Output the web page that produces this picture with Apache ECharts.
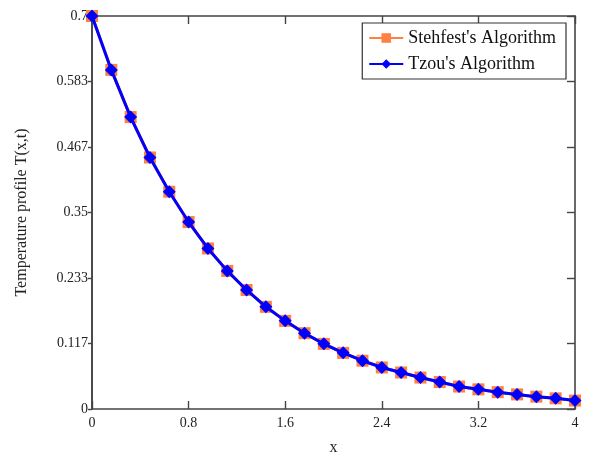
<!DOCTYPE html>
<html>
<head>
<meta charset="utf-8">
<script src="https://cdn.jsdelivr.net/npm/echarts@6/dist/echarts.min.js"></script>
<style>html,body{margin:0;padding:0;background:#fff;}#c{width:590px;height:461px;}</style>
</head>
<body>
<div id="c"></div>
<script>
var xValues = [0,0.16,0.32,0.48,0.64,0.80,0.96,1.12,1.28,1.44,1.60,1.76,1.92,2.08,2.24,2.40,2.56,2.72,2.88,3.04,3.20,3.36,3.52,3.68,3.84,4.00];
var stehfest = [0.700,0.604,0.520,0.448,0.387,0.333,0.286,0.246,0.212,0.182,0.157,0.135,0.116,0.100,0.086,0.074,0.065,0.056,0.048,0.040,0.035,0.030,0.026,0.022,0.019,0.015];
var tzou = [0.700,0.604,0.520,0.448,0.387,0.333,0.286,0.246,0.212,0.182,0.157,0.135,0.116,0.100,0.086,0.074,0.065,0.056,0.048,0.040,0.035,0.030,0.026,0.022,0.019,0.015];
var yTickLabels = ['0','0.117','0.233','0.35','0.467','0.583','0.7'];
var xTickLabels = ['0','0.8','1.6','2.4','3.2','4'];
var seriesNames = ["Stehfest's Algorithm","Tzou's Algorithm"];

var yInt = 0.7/6;
function pairs(ys){ return xValues.map(function(x,i){return [x, ys[i]];}); }
var font = 'Liberation Serif';
var axisColor = '#444';
function line(show){ return {show: show !== false, onZero: false, lineStyle: {color: axisColor, width: 1.6}}; }
function tickAxisX(pos, inside, len){
  return {type: 'value', min: 0, max: 4, interval: 0.8, position: pos, show: true,
    axisLine: line(), axisTick: {show: true, inside: inside, length: len, lineStyle: {color: axisColor, width: 1.4}},
    axisLabel: {show: false}, splitLine: {show: false}};
}
function tickAxisY(pos, inside, len){
  return {type: 'value', min: 0, max: 0.7, interval: yInt, position: pos, show: true,
    axisLine: line(), axisTick: {show: true, inside: inside, length: len, lineStyle: {color: axisColor, width: 1.4}},
    axisLabel: {show: false}, splitLine: {show: false}};
}
var chart = echarts.init(document.getElementById('c'));
chart.setOption({
  animation: false,
  backgroundColor: '#fff',
  textStyle: {fontFamily: font},
  grid: {left: 92, right: 15, top: 16, bottom: 52, containLabel: false, outerBoundsMode: 'none'},
  legend: {
    right: 24, top: 23,
    orient: 'vertical',
    backgroundColor: '#fff',
    borderColor: '#333',
    borderWidth: 1.2,
    borderRadius: 0,
    padding: [6, 10, 6, 6],
    itemGap: 8,
    itemWidth: 34, itemHeight: 12,
    textStyle: {fontFamily: font, fontSize: 18, color: '#111'},
    data: seriesNames
  },
  xAxis: [{
    type: 'value', min: 0, max: 4, interval: 0.8, position: 'bottom',
    name: 'x', nameLocation: 'middle', nameGap: 31,
    nameTextStyle: {fontFamily: font, fontSize: 16, color: '#222'},
    axisLine: line(),
    axisTick: {show: true, inside: false, length: -8, lineStyle: {color: axisColor, width: 1.4}},
    axisLabel: {fontFamily: font, fontSize: 14, color: '#222', margin: 7,
      formatter: function(v){ return xTickLabels[Math.round(v/0.8)]; }},
    splitLine: {show: false}
  }, tickAxisX('top', true, 8)],
  yAxis: [{
    type: 'value', min: 0, max: 0.7, interval: yInt, position: 'left',
    name: 'Temperature profile T(x,t)', nameLocation: 'middle', nameGap: 62,
    nameTextStyle: {fontFamily: font, fontSize: 16, color: '#222'},
    axisLine: line(), axisTick: {show: false},
    axisLabel: {fontFamily: font, fontSize: 14, color: '#222', margin: 4,
      formatter: function(v){ return yTickLabels[Math.round(v/yInt)]; }},
    splitLine: {show: false}
  }, tickAxisY('right', true, 8), tickAxisY('left', false, 4)],
  series: [{
    name: seriesNames[0], type: 'line', data: pairs(stehfest),
    xAxisIndex: 0, yAxisIndex: 0,
    symbol: 'rect', symbolSize: 12,
    itemStyle: {color: '#FF8040'},
    lineStyle: {color: '#FF8040', width: 3},
    z: 2
  },{
    name: seriesNames[1], type: 'line', data: pairs(tzou),
    xAxisIndex: 0, yAxisIndex: 0,
    symbol: 'diamond', symbolSize: 13,
    itemStyle: {color: '#0000FF'},
    lineStyle: {color: '#0000FF', width: 3},
    z: 3
  }]
});
</script>
</body>
</html>
